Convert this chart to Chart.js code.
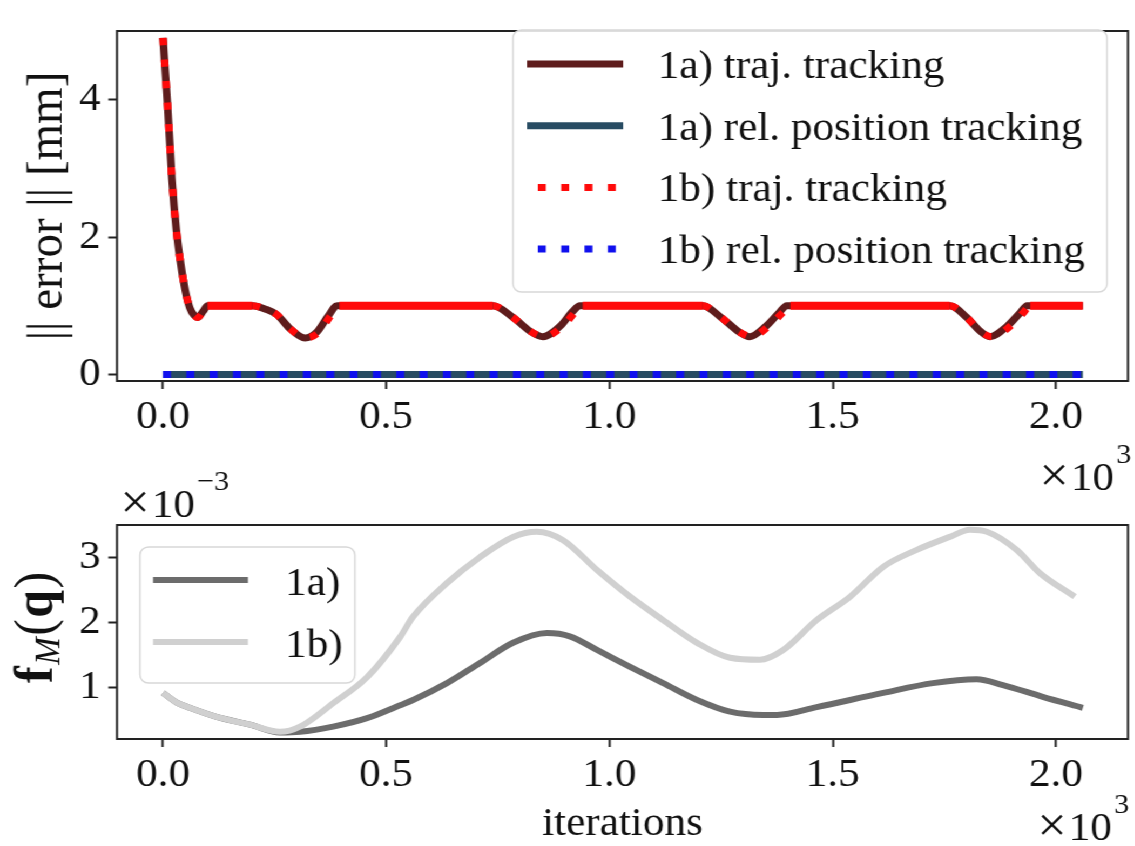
<!DOCTYPE html>
<html>
<head>
<meta charset="utf-8">
<script src="https://cdn.jsdelivr.net/npm/chart.js@4.4.1/dist/chart.umd.min.js"></script>
<style>
  html, body { margin: 0; padding: 0; background: #fff; overflow: hidden; }
  /* the reference figure is a bit stretched horizontally, so draw narrower and stretch */
  #stage { position: absolute; left: 0; top: 0; width: 1051px; height: 846px; transform: scaleX(1.08); transform-origin: 0 0; }
  #stage canvas { position: absolute; left: 0; }
</style>
</head>
<body>
<div id="stage">
  <canvas id="errChart" width="1051" height="430" style="top:0"></canvas>
  <canvas id="fmChart" width="1051" height="416" style="top:430px"></canvas>
</div>
<script>
// ---- data (x in 10^3 iterations) ----
const xTicks = [0.0, 0.5, 1.0, 1.5, 2.0];
const errTicks = [0, 2, 4];
const fmTicks = [1, 2, 3];

const errLabels = ['1a) traj. tracking', '1a) rel. position tracking', '1b) traj. tracking', '1b) rel. position tracking'];
const fmLabels = ['1a)', '1b)'];

// 1a) trajectory tracking error [mm]
const traj1aX = [0, 0.005, 0.01, 0.02, 0.03, 0.04, 0.05, 0.06, 0.07, 0.078, 0.09, 0.10,
  0.20, 0.23, 0.255, 0.284, 0.318, 0.345, 0.37, 0.39,
  0.739, 0.784, 0.822, 0.851, 0.889, 0.918, 0.934,
  1.209, 1.25, 1.29, 1.314, 1.35, 1.38, 1.397,
  1.762, 1.80, 1.83, 1.852, 1.89, 1.92, 1.935, 2.06];
const traj1aY = [4.90, 4.42, 3.95, 2.85, 2.10, 1.60, 1.22, 0.97, 0.86, 0.83, 0.92, 1.00,
  1.00, 0.95, 0.87, 0.67, 0.53, 0.62, 0.85, 1.00,
  1.00, 0.83, 0.63, 0.55, 0.70, 0.92, 1.00,
  1.00, 0.83, 0.62, 0.55, 0.70, 0.90, 1.00,
  1.00, 0.83, 0.63, 0.55, 0.70, 0.90, 1.00, 1.00];

// 1b) trajectory tracking error [mm]
const traj1bX = [0, 0.005, 0.01, 0.02, 0.03, 0.04, 0.05, 0.06, 0.07, 0.078, 0.09, 0.10,
  0.20, 0.23, 0.255, 0.284, 0.32, 0.35, 0.375, 0.395,
  0.739, 0.784, 0.822, 0.853, 0.895, 0.925, 0.94,
  1.209, 1.25, 1.29, 1.318, 1.356, 1.388, 1.405,
  1.762, 1.80, 1.83, 1.856, 1.897, 1.927, 1.942, 2.06];
const traj1bY = [4.90, 4.42, 3.95, 2.85, 2.10, 1.60, 1.22, 0.97, 0.86, 0.83, 0.92, 1.00,
  1.00, 0.95, 0.87, 0.67, 0.53, 0.62, 0.85, 1.00,
  1.00, 0.83, 0.63, 0.55, 0.70, 0.92, 1.00,
  1.00, 0.83, 0.62, 0.55, 0.70, 0.90, 1.00,
  1.00, 0.83, 0.63, 0.55, 0.70, 0.90, 1.00, 1.00];

// relative position tracking error [mm]
const relX = [0, 2.06];
const rel1aY = [0, 0];
const rel1bY = [0, 0];

// manipulability f_M(q) [x10^-3]
const fm1aX = [0, 0.031, 0.06, 0.12, 0.195, 0.262, 0.307, 0.381, 0.457, 0.531, 0.56, 0.636, 0.71, 0.784,
  0.86, 0.911, 0.972, 1.046, 1.12, 1.196, 1.27, 1.344, 1.375, 1.464, 1.613, 1.724, 1.822, 1.881, 1.97, 2.06];
const fm1aY = [0.92, 0.77, 0.69, 0.55, 0.43, 0.31, 0.32, 0.40, 0.53, 0.73, 0.81, 1.07, 1.38, 1.69,
  1.84, 1.79, 1.58, 1.32, 1.07, 0.81, 0.63, 0.58, 0.58, 0.70, 0.92, 1.07, 1.13, 1.04, 0.86, 0.69];
const fm1bX = [0, 0.031, 0.06, 0.12, 0.195, 0.262, 0.307, 0.381, 0.457, 0.531, 0.56, 0.636, 0.71, 0.784,
  0.837, 0.896, 0.972, 1.046, 1.12, 1.196, 1.27, 1.337, 1.389, 1.464, 1.539, 1.613, 1.688, 1.762,
  1.807, 1.845, 1.912, 1.964, 2.042];
const fm1bY = [0.92, 0.77, 0.69, 0.55, 0.43, 0.32, 0.40, 0.76, 1.16, 1.78, 2.09, 2.61, 3.01, 3.32,
  3.40, 3.27, 2.81, 2.40, 2.04, 1.69, 1.46, 1.43, 1.58, 2.04, 2.40, 2.86, 3.12, 3.32,
  3.43, 3.40, 3.12, 2.76, 2.40];

const pts = (xs, ys) => xs.map((x, i) => ({ x: x, y: ys[i] }));

const SERIF = "'Liberation Serif', 'Times New Roman', serif";
const FS = 40;
Chart.defaults.font.family = SERIF;
Chart.defaults.font.size = FS;
Chart.defaults.color = '#111';

// box around the plot area
const frame = {
  id: 'frame',
  afterDatasetsDraw(chart) {
    const a = chart.chartArea, ctx = chart.ctx;
    ctx.save();
    ctx.strokeStyle = '#222';
    ctx.lineWidth = 2;
    ctx.strokeRect(a.left, a.top, a.right - a.left, a.bottom - a.top);
    ctx.restore();
  }
};

// matplotlib style legend box
const boxLegend = {
  id: 'boxLegend',
  afterDraw(chart, args, o) {
    const ctx = chart.ctx;
    ctx.save();
    ctx.beginPath();
    ctx.roundRect(o.x, o.y, o.w, o.h, 8);
    ctx.fillStyle = 'rgba(255,255,255,0.85)';
    ctx.fill();
    ctx.strokeStyle = '#d8d8d8';
    ctx.lineWidth = 1.5;
    ctx.stroke();
    chart.data.datasets.forEach((ds, i) => {
      const y = o.y + o.firstRow + i * o.rowGap;
      ctx.beginPath();
      ctx.setLineDash(ds.legendDash || []);
      ctx.strokeStyle = ds.borderColor;
      ctx.lineWidth = ds.borderWidth;
      ctx.moveTo(o.lineX0 + (ds.legendDash ? 10 : 0), y);
      ctx.lineTo(o.lineX1, y);
      ctx.stroke();
      ctx.setLineDash([]);
      ctx.fillStyle = '#111';
      ctx.font = FS + 'px ' + SERIF;
      ctx.textBaseline = 'alphabetic';
      ctx.textAlign = 'left';
      ctx.fillText(ds.label, o.textX, y + o.textDy);
    });
    ctx.restore();
  }
};

// "x10^n" offset texts, x = right edge of "10"
const offsetText = {
  id: 'offsetText',
  afterDraw(chart, args, o) {
    const ctx = chart.ctx;
    ctx.save();
    ctx.fillStyle = '#111';
    ctx.textBaseline = 'alphabetic';
    (o.items || []).forEach(it => {
      ctx.font = FS + 'px ' + SERIF;
      ctx.textAlign = 'right';
      ctx.fillText('10', it.x, it.y);
      const w = ctx.measureText('10').width;
      ctx.font = '48px ' + SERIF;
      ctx.fillText('\u00d7', it.x - w - 2, it.y + 1);
      ctx.font = '28px ' + SERIF;
      ctx.textAlign = 'left';
      ctx.fillText(it.exp, it.x + 2, it.y - 27);
    });
    ctx.restore();
  }
};

// y label f_M(q) with mixed fonts
const fmLabel = {
  id: 'fmLabel',
  afterDraw(chart, args, o) {
    if (!o.show) return;
    const ctx = chart.ctx;
    ctx.save();
    ctx.translate(o.x, o.y);
    ctx.rotate(-Math.PI / 2);
    ctx.fillStyle = '#111';
    ctx.textBaseline = 'alphabetic';
    ctx.textAlign = 'left';
    let cx = 0;
    const parts = [
      { t: 'f', f: 'bold 50px ' + SERIF, dy: 0 },
      { t: 'M', f: 'italic 33px ' + SERIF, dy: 7 },
      { t: '(', f: '50px ' + SERIF, dy: 0 },
      { t: 'q', f: 'bold 50px ' + SERIF, dy: 0 },
      { t: ')', f: '50px ' + SERIF, dy: 0 }
    ];
    parts.forEach(p => {
      ctx.font = p.f;
      ctx.fillText(p.t, cx, p.dy);
      cx += ctx.measureText(p.t).width + 1.5;
    });
    ctx.restore();
  }
};

function xScale(height, showTitle) {
  return {
    type: 'linear',
    min: -0.103,
    max: 2.161,
    afterBuildTicks: s => { s.ticks = xTicks.map(v => ({ value: v })); },
    afterFit: s => { s.height = height; },
    ticks: { autoSkip: false, maxRotation: 0, padding: 4, callback: v => Number(v).toFixed(1) },
    grid: { drawOnChartArea: false, drawTicks: true, tickLength: 8, tickWidth: 2, tickColor: '#222' },
    border: { display: false },
    title: { display: showTitle, text: 'iterations', font: { size: FS, lineHeight: 1 }, padding: { top: 0, bottom: 2 } }
  };
}

function yScale(min, max, tickVals, title) {
  return {
    min: min,
    max: max,
    afterBuildTicks: s => { s.ticks = tickVals.map(v => ({ value: v })); },
    afterFit: s => { s.width = 108.3; },
    ticks: { padding: 7, callback: v => String(v) },
    grid: { drawOnChartArea: false, drawTicks: true, tickLength: 8, tickWidth: 2, tickColor: '#222' },
    border: { display: false },
    title: { display: !!title, text: title || '', font: { size: 47, lineHeight: 1 }, padding: { top: 21, bottom: 0 } }
  };
}

const flat = c => c.p0.parsed.y === c.p1.parsed.y;

new Chart(document.getElementById('errChart'), {
  type: 'line',
  data: {
    datasets: [
      { label: errLabels[0], data: pts(traj1aX, traj1aY), borderColor: '#5e1c1c', borderWidth: 7, order: 2 },
      { label: errLabels[1], data: pts(relX, rel1aY), borderColor: '#284c63', borderWidth: 7, order: 2 },
      { label: errLabels[2], data: pts(traj1bX, traj1bY), borderColor: '#ff0a0a', borderWidth: 7, order: 1,
        borderDash: [7.4, 14.2], legendDash: [7.4, 14.2],
        segment: { borderDash: c => (flat(c) ? [] : undefined), borderWidth: c => (flat(c) ? 8 : undefined) } },
      { label: errLabels[3], data: pts(relX, rel1bY), borderColor: '#1010ee', borderWidth: 7, order: 1,
        borderDash: [7.4, 14.2], legendDash: [7.4, 14.2] }
    ]
  },
  options: {
    responsive: false,
    animation: false,
    elements: { point: { radius: 0 }, line: { cubicInterpolationMode: 'monotone', fill: false } },
    layout: { padding: { top: 8, right: 6.6, left: 0, bottom: 0 } },
    scales: { x: xScale(49, false), y: yScale(-0.096, 5.0, errTicks, '|| error || [mm]') },
    plugins: {
      legend: { display: false },
      tooltip: { enabled: false },
      boxLegend: { x: 475, y: 30, w: 550, h: 262, firstRow: 34, rowGap: 61.7, lineX0: 488, lineX1: 577, textX: 609, textDy: 14 }
    }
  },
  plugins: [frame, boxLegend]
});

new Chart(document.getElementById('fmChart'), {
  type: 'line',
  data: {
    datasets: [
      { label: fmLabels[0], data: pts(fm1aX, fm1aY), borderColor: '#6c6c6c', borderWidth: 6, order: 2 },
      { label: fmLabels[1], data: pts(fm1bX, fm1bY), borderColor: '#d0d0d0', borderWidth: 6, order: 1 }
    ]
  },
  options: {
    responsive: false,
    animation: false,
    elements: { point: { radius: 0 }, line: { cubicInterpolationMode: 'monotone', fill: false } },
    layout: { padding: { top: 95, right: 6.6, left: 0, bottom: 0 } },
    scales: { x: xScale(107, true), y: yScale(0.21, 3.503, fmTicks, '') },
    plugins: {
      legend: { display: false },
      tooltip: { enabled: false },
      boxLegend: { x: 129.6, y: 117, w: 199, h: 136, firstRow: 33, rowGap: 62, lineX0: 141.7, lineX1: 229.6, textX: 264, textDy: 15 },
      offsetText: { items: [
        { x: 1031.5, y: 60, exp: '3' },
        { x: 180.5, y: 87, exp: '\u22123' },
        { x: 1029.6, y: 410, exp: '3' }
      ] },
      fmLabel: { show: true, x: 48, y: 253 }
    }
  },
  plugins: [frame, boxLegend, offsetText, fmLabel]
});
</script>
</body>
</html>
